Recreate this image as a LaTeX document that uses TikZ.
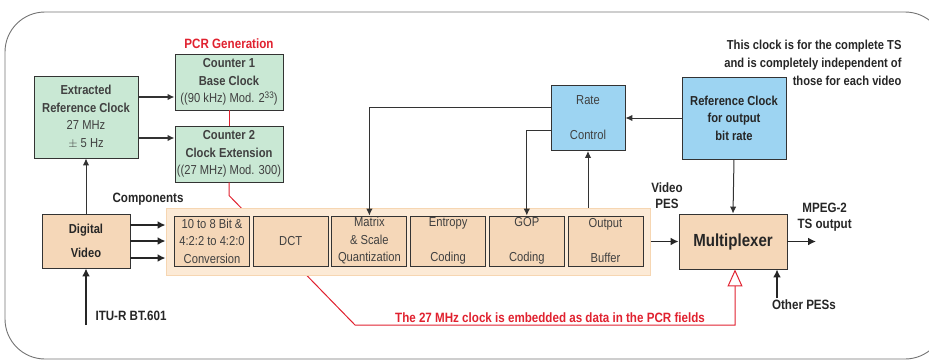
\documentclass[tikz,border=0pt]{standalone}
\usepackage{fontspec}
\setmainfont{Liberation Sans}[FakeStretch=0.86]
\usetikzlibrary{arrows.meta}

\definecolor{clkgreen}{HTML}{C9E8D4}
\definecolor{ctlblue}{HTML}{9DD4F2}
\definecolor{encorange}{HTML}{F5D7B8}
\definecolor{panelorange}{HTML}{FCEAD6}
\definecolor{paneledge}{HTML}{F6D6B2}
\definecolor{pcrred}{HTML}{E0212F}
\definecolor{boxtext}{HTML}{404040}

\tikzset{
  blk/.style={draw=black!80, line width=0.9pt, align=center, inner sep=0pt,
    text=boxtext, font=\fontsize{13}{17.5}\selectfont},
  clkbox/.style={blk, fill=clkgreen},
  ratebox/.style={blk, fill=ctlblue},
  encbox/.style={blk, fill=encorange, minimum width=75pt, minimum height=50pt},
  lbl/.style={font=\bfseries\fontsize{13.5}{16}\selectfont, text=black!85, align=center},
  fat/.style={-{Latex[length=8pt,width=8pt]}, line width=1.8pt, black!85},
  thin/.style={-{Latex[length=7pt,width=6.5pt]}, line width=1pt, black!80},
}

\begin{document}
\begin{tikzpicture}[x=1pt,y=-1pt]
    \useasboundingbox (0,0) rectangle (929,362);

    % outer frame
    \draw[black!55, line width=0.9pt, rounded corners=40pt] (5,12) rectangle (945,359);

    % PCR generation
    \node[clkbox, minimum width=104pt, minimum height=82pt] (erc) at (86,117)
        {\textbf{Extracted}\\\textbf{Reference Clock}\\27 MHz\\$\pm$ 5 Hz};
    \node[clkbox, minimum width=108pt, minimum height=56pt] (cnt1) at (229,82)
        {\textbf{Counter 1}\\\textbf{Base Clock}\\((90 kHz) Mod. 2\raisebox{4pt}{\fontsize{9.5}{10}\selectfont 33})};
    \node[clkbox, minimum width=108pt, minimum height=56pt] (cnt2) at (229,154)
        {\textbf{Counter 2}\\\textbf{Clock Extension}\\((27 MHz) Mod. 300)};
    \node[lbl, text=pcrred] (pcr) at (229,44) {PCR Generation};

    % multiplexer
    \node[blk, fill=encorange, minimum width=108pt, minimum height=55pt,
        text=black!85, font=\bfseries\fontsize{17.5}{20}\selectfont] (mux) at (733,241.5)
        {Multiplexer};

    % red path, behind the encoder panel
    \coordinate (emb) at (355,325);
    \draw[pcrred, line width=1pt] (cnt1.south) -- (cnt2.north);
    \draw[pcrred, line width=1pt, -{Triangle[open, length=17pt, width=15pt]}]
        (cnt2.south) -- ++(0,13) -- (emb) -| (mux.south -| 735,0);
    \node[lbl, text=pcrred, anchor=south] (embtxt) at (550,326)
        {The 27 MHz clock is embedded as data in the PCR fields};

    % encoder
    \node[draw=paneledge, fill=panelorange, line width=1pt, minimum width=484pt,
        minimum height=67pt, inner sep=0pt] (panel) at (408,241.5) {};
    \node[encbox] (b1) at (212,241) {10 to 8 Bit \&\\4:2:2 to 4:2:0\\Conversion};
    \node[encbox] (b2) at (290.7,241) {DCT};
    \node[encbox] (b3) at (369.4,241) {Matrix\\\& Scale\\Quantization};
    \node[encbox] (b4) at (448.1,241) {Entropy\\[17.5pt]Coding};
    \node[encbox] (b5) at (526.8,241) {GOP\\[17.5pt]Coding};
    \node[encbox] (b6) at (605.5,241) {Output\\[17.5pt]Buffer};

    % source
    \node[blk, fill=encorange, minimum width=88pt, minimum height=54pt,
        text=black!85, font=\bfseries\fontsize{13}{17.5}\selectfont] (dv) at (86,241)
        {Digital\\[6pt]Video};
    \coordinate (itu) at (86,325);
    \node[lbl, anchor=west] (itutxt) at (92,316) {ITU-R BT.601};
    \node[lbl] (comp) at (148,199) {Components};

    % rate control
    \node[ratebox, minimum width=74pt, minimum height=65pt] (rate) at (588,118)
        {Rate\\[17.5pt]Control};
    \node[ratebox, minimum width=104pt, minimum height=82pt, text=black!85,
        font=\bfseries\fontsize{13}{17.5}\selectfont] (refclk) at (734,118)
        {Reference Clock\\for output\\bit rate};
    \node[lbl, align=right, anchor=north east, font=\bfseries\fontsize{13}{18}\selectfont]
        (note) at (905,37)
        {This clock is for the complete TS\\and is completely independent of\\those for each video};

    % outputs
    \node[lbl] (pes) at (667,196) {Video\\PES};
    \coordinate (tsout) at (816,241.5);
    \node[lbl, anchor=west] (tstxt) at (794,217) {MPEG-2\\TS output};
    \coordinate (othr) at (777,298);
    \node[lbl] (othtxt) at (804,305) {Other PESs};

    % connectors
    \draw[thin] (dv) -- (erc);
    \draw[thin, line width=1.3pt] ([yshift=20pt]erc.east) -- ([yshift=20pt]erc.east -| cnt1.west);
    \draw[thin, line width=1.3pt] ([yshift=-21pt]erc.east) -- ([yshift=-21pt]erc.east -| cnt2.west);
    \draw[fat] (itu) -- (dv.south);
    \foreach \dy in {16,0,-17}{
        \draw[fat] ([yshift=\dy pt]dv.east) -- ([yshift=\dy pt]dv.east -| panel.west);
    }
    \draw[thin] ([yshift=11pt]rate.west) -| (b3.north);
    \draw[thin] ([yshift=-12pt]rate.west) -| (b5.north);
    \draw[thin] (rate.south |- panel.north) -- (rate.south);
    \draw[thin] (refclk.west) -- (rate.east);
    \draw[thin] (refclk.south) -- (mux.north);
    \draw[fat] (panel.east) -- (mux.west);
    \draw[fat] (mux.east) -- (tsout);
    \draw[fat] (othr) -- (othr |- mux.south);

\end{tikzpicture}
\end{document}
